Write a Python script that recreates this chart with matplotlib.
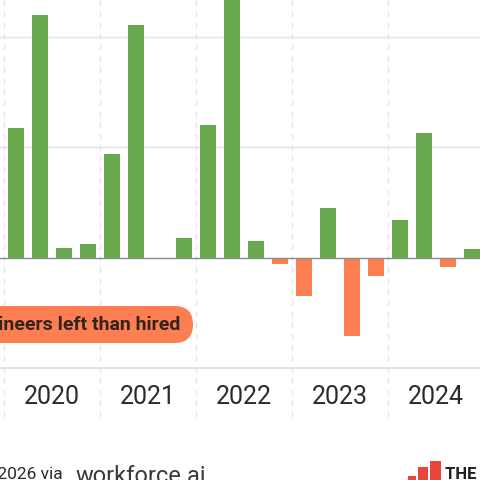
import matplotlib
matplotlib.use('Agg')
import matplotlib.pyplot as plt
from matplotlib.patches import FancyBboxPatch, Rectangle

plt.rcParams['font.family'] = ['Roboto', 'DejaVu Sans']

# net change per quarter (in gridline units)
years = ['2020', '2021', '2022', '2023', '2024']
quarters = ['2019 Q4'] + [y + ' Q' + str(q) for y in years for q in range(1, 5)]
net_change = [0.19,
              1.18, 2.20, 0.09, 0.12,
              0.94, 2.11, -0.01, 0.18,
              1.20, 2.60, 0.15, -0.06,
              -0.35, 0.45, -0.71, -0.17,
              0.34, 1.13, -0.08, 0.08]
grid_levels = [1, 2]

GREEN = '#6aa84f'
ORANGE = '#fd7e50'

fig = plt.figure(figsize=(4.8, 4.8), dpi=100)
ax = fig.add_axes([0, 1 - 368 / 480, 1, 368 / 480])

x = [i - 1 for i in range(len(quarters))]
colors = [GREEN if v >= 0 else ORANGE for v in net_change]
ax.bar(x, net_change, width=0.667, color=colors, zorder=2)

ax.set_xlim(-0.68, 19.32)
ax.set_ylim(-1, 2.336)

# grid
for g in grid_levels:
    ax.axhline(g, color='#e3e3e3', lw=1, zorder=0)
ax.axhline(-1, color='#dcdcdc', lw=1.2, zorder=0, clip_on=False)
ax.axhline(0, color='#8a8a8a', lw=1, zorder=3)

# year separators and labels
for k in range(len(years) + 1):
    xs = -0.5 + 4 * k
    ax.plot([xs, xs], [2.336, -1.48], color='#e0e4ec', lw=1,
            ls=(0, (4, 4)), zorder=0, clip_on=False)
for k, yr in enumerate(years):
    ax.text(1.5 + 4 * k, -1.263, yr, ha='center', va='center',
            fontsize=18, color='#2b2b2b', clip_on=False)

for s in ax.spines.values():
    s.set_visible(False)
ax.set_xticks([])
ax.set_yticks([])

# annotation pill
pill = FancyBboxPatch((-20 / 480, (480 - 343) / 480), 213 / 480, 37 / 480,
                      boxstyle='round,pad=0,rounding_size=%f' % (18.5 / 480),
                      transform=fig.transFigure, fc=ORANGE, ec='none')
fig.patches.append(pill)
fig.text(180 / 480, 1 - 325 / 480, 'More engineers left than hired',
         ha='right', va='center', fontsize=14, fontweight='semibold',
         color='#33241c')

# source line
fig.text(63 / 480, 1 - 467 / 480, 'Source: 2026 via', ha='right', va='top',
         fontsize=12.5, color='#2b2b2b')
fig.text(75 / 480, 1 - 465 / 480, 'workforce.ai', ha='left', va='top',
         fontsize=17, color='#3a3a3a')

# logo
for x0, x1, top in [(408, 416, 476), (418, 428, 467), (430, 441, 461)]:
    fig.patches.append(Rectangle((x0 / 480, -0.02), (x1 - x0) / 480,
                                 (480 - top) / 480 + 0.02,
                                 transform=fig.transFigure,
                                 fc='#e8453c', ec='none'))
fig.text(445 / 480, 1 - 467 / 480, 'THE PRAGMATIC ENGINEER', ha='left',
         va='top', fontsize=12, fontweight='bold', color='#1f1f1f')

fig.savefig('out.png', dpi=100)
